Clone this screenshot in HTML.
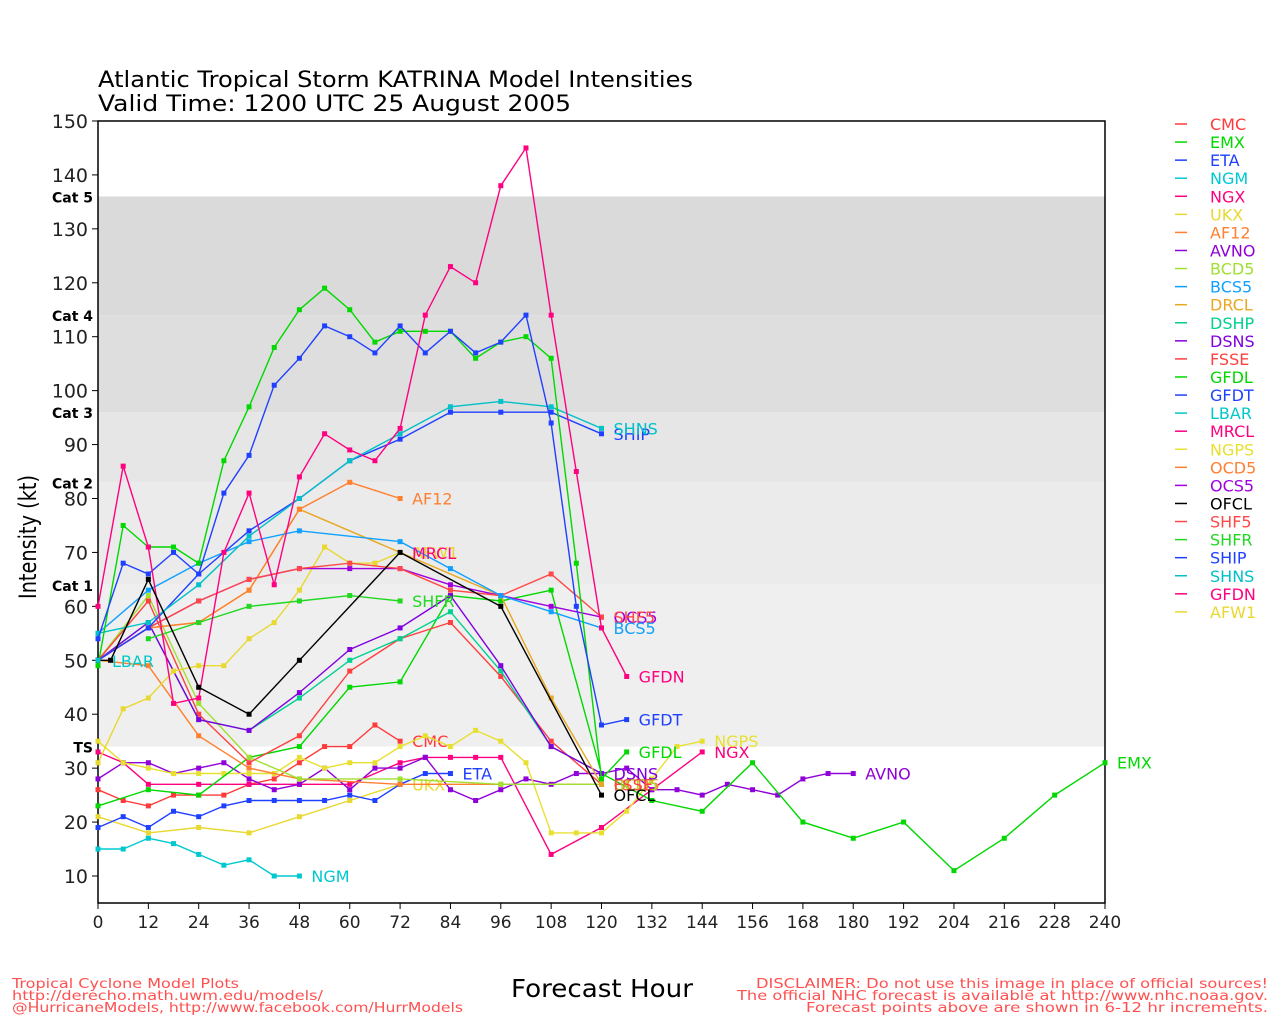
<!DOCTYPE html>
<html><head><meta charset="utf-8"><style>
html,body{margin:0;padding:0;background:#fff;width:1280px;height:1024px;overflow:hidden}
svg text{font-family:"DejaVu Sans","Liberation Sans",sans-serif}
</style></head><body>
<svg id="s" width="1280" height="1024" xmlns="http://www.w3.org/2000/svg"></svg>
<script>
const S=document.getElementById('s');let h='';
const X=t=>98+t*1007/240, Y=v=>876-(v-10)*5.393;
h+=`<rect x="98" y="121" width="1007" height="782" fill="#fff"/>`;
[[136,114,'#dadada'],[114,96,'#dedede'],[96,83,'#e6e6e6'],[83,64,'#ebebeb'],[64,34,'#efefef']].forEach(b=>{
 h+=`<rect x="98" y="${Y(b[0])}" width="1007" height="${Y(b[1])-Y(b[0])}" fill="${b[2]}"/>`;});
h+=`<rect x="98" y="121" width="1007" height="782" fill="none" stroke="#000" stroke-width="1.5"/>`;
for(let v=10;v<=150;v+=10){h+=`<line x1="92" x2="98" y1="${Y(v)}" y2="${Y(v)}" stroke="#000"/><text x="88" y="${Y(v)+7}" font-size="19" text-anchor="end" fill="#222">${v}</text>`;}
for(let t=0;t<=240;t+=12){h+=`<line x1="${X(t)}" x2="${X(t)}" y1="903" y2="909" stroke="#000"/><text x="${X(t)}" y="928" font-size="17" text-anchor="middle" fill="#222">${t}</text>`;}
[['Cat 5',136],['Cat 4',114],['Cat 3',96],['Cat 2',83],['Cat 1',64],['TS',34]].forEach(c=>{h+=`<text x="93" y="${Y(c[1])+6}" font-size="14" font-weight="bold" text-anchor="end">${c[0]}</text>`;});
h+=`<text x="98" y="87" font-size="22" textLength="595" lengthAdjust="spacingAndGlyphs">Atlantic Tropical Storm KATRINA Model Intensities</text><text x="98" y="111" font-size="22" textLength="473" lengthAdjust="spacingAndGlyphs">Valid Time: 1200 UTC 25 August 2005</text>`;
h+=`<text transform="translate(36,537) rotate(-90)" font-size="24" text-anchor="middle" textLength="124" lengthAdjust="spacingAndGlyphs">Intensity (kt)</text>`;
h+=`<text x="511" y="997" font-size="25" textLength="182" lengthAdjust="spacingAndGlyphs">Forecast Hour</text>`;
h+=`<g font-size="13.5" fill="#ff5050"><text x="12" y="988" textLength="227" lengthAdjust="spacingAndGlyphs">Tropical Cyclone Model Plots</text><text x="12" y="1000" textLength="311" lengthAdjust="spacingAndGlyphs">http://derecho.math.uwm.edu/models/</text><text x="12" y="1012" textLength="451" lengthAdjust="spacingAndGlyphs">@HurricaneModels, http://www.facebook.com/HurrModels</text>
<text x="756" y="988" textLength="512" lengthAdjust="spacingAndGlyphs">DISCLAIMER: Do not use this image in place of official sources!</text><text x="737" y="1000" textLength="531" lengthAdjust="spacingAndGlyphs">The official NHC forecast is available at http://www.nhc.noaa.gov.</text><text x="806" y="1012" textLength="462" lengthAdjust="spacingAndGlyphs">Forecast points above are shown in 6-12 hr increments.</text></g>`;
const C={CMC:'#ff3a3a',EMX:'#00d800',ETA:'#2040ff',NGM:'#00c8d0',NGX:'#ff0080',UKX:'#e8d830',AF12:'#ff8030',AVNO:'#9000d8',BCD5:'#a0e030',BCS5:'#10a0ff',DRCL:'#e8a820',DSHP:'#00d090',DSNS:'#8000e0',FSSE:'#ff4040',GFDL:'#00d800',GFDT:'#2040ff',LBAR:'#00c8c8',MRCL:'#ff0080',NGPS:'#e8e030',OCD5:'#ff8030',OCS5:'#a000e0',OFCL:'#000000',SHF5:'#ff4848',SHFR:'#20d820',SHIP:'#2040ff',SHNS:'#00c0c8',GFDN:'#ff0080',AFW1:'#e8d830'};
const step=(s,arr)=>arr.map((v,i)=>[s*i,v]);
const D={
NGM:step(6,[15,15,17,16,14,12,13,10,10]),
UKX:step(12,[21,18,19,18,21,24,27]),
ETA:step(6,[19,21,19,22,21,23,24,24,24,24,25,24,27,29,29]),
CMC:step(6,[26,24,23,25,25,25,27,28,31,34,34,38,35]),
NGX:[[0,33],[6,31],[12,27],[24,27],[36,27],[48,27],[60,27],[72,31],[78,32],[84,32],[90,32],[96,32],[108,14],[120,19],[132,26],[144,33]],
AVNO:step(6,[28,31,31,29,30,31,28,26,27,30,26,30,30,32,26,24,26,28,27,29,29,30,26,26,25,27,26,25,28,29,29]),
NGPS:step(6,[35,31,30,29,29,29,29,29,32,30,31,31,34,36,34,37,35,31,18,18,18,22,28,34,35]),
EMX:[[0,23],[12,26],[24,25],[36,32],[48,34],[60,45],[72,46],[84,62],[96,61],[108,63],[120,29],[132,24],[144,22],[156,31],[168,20],[180,17],[192,20],[204,11],[216,17],[228,25],[240,31]],
OCD5:[[0,50],[12,49],[24,36],[36,30],[48,28],[72,27],[96,27],[120,27]],
BCD5:[[0,50],[12,62],[24,42],[36,32],[48,28],[72,28],[96,27],[120,27]],
FSSE:[[0,50],[12,61],[24,40],[36,31],[48,36],[60,48],[72,54],[84,57],[96,47],[108,35],[120,27]],
DSHP:[[0,50],[12,57],[24,39],[36,37],[48,43],[60,50],[72,54],[84,59],[96,48],[108,34],[120,29]],
DSNS:[[0,50],[12,57],[24,39],[36,37],[48,44],[60,52],[72,56],[84,62],[96,49],[108,34],[120,29]],
DRCL:[[0,50],[12,56],[24,57],[36,63],[48,78],[96,62],[108,43],[120,27]],
AFW1:step(6,[31,41,43,48,49,49,54,57,63,71,68,68,70]),
AF12:[[0,50],[12,56],[24,57],[36,63],[48,78],[60,83],[72,80]],
SHFR:[[12,54],[24,57],[36,60],[48,61],[60,62],[72,61]],
OCS5:[[0,50],[12,56],[24,61],[36,65],[48,67],[60,67],[72,67],[84,64],[96,62],[108,60],[120,58]],
SHF5:[[0,50],[12,56],[24,61],[36,65],[48,67],[60,68],[72,67],[84,63],[96,62],[108,66],[120,58]],
BCS5:[[0,55],[12,63],[24,68],[36,72],[48,74],[72,72],[84,67],[96,62],[108,59],[120,56]],
SHIP:[[0,50],[12,56],[24,66],[36,74],[48,80],[60,87],[72,91],[84,96],[96,96],[108,96],[120,92]],
SHNS:[[0,55],[12,57],[24,64],[36,73],[48,80],[60,87],[72,92],[84,97],[96,98],[108,97],[120,93]],
GFDL:step(6,[49,75,71,71,68,87,97,108,115,119,115,109,111,111,111,106,109,110,106,68,28,33]),
GFDT:step(6,[54,68,66,70,66,81,88,101,106,112,110,107,112,107,111,107,109,114,94,60,38,39]),
GFDN:step(6,[60,86,71,42,43,70,81,64,84,92,89,87,93,114,123,120,138,145,114,85,56,47]),
OFCL:[[0,50],[3,50],[12,65],[24,45],[36,40],[48,50],[72,70],[96,60],[120,25]],
LBAR:[[0,50]]
};
const L={NGM:1,UKX:1,ETA:1,CMC:1,NGX:1,AVNO:1,NGPS:1,EMX:1,OCD5:1,BCD5:1,FSSE:1,DSNS:1,AF12:1,SHFR:1,OCS5:1,SHF5:1,BCS5:1,SHIP:1,SHNS:1,GFDL:1,GFDT:1,GFDN:1,OFCL:1,AFW1:1};
for(const k in D){const p=D[k],c=C[k];
 if(p.length>1)h+=`<polyline fill="none" stroke="${c}" stroke-width="1.4" points="${p.map(q=>X(q[0]).toFixed(1)+','+Y(q[1]).toFixed(1)).join(' ')}"/>`;
 p.forEach(q=>{h+=`<rect x="${X(q[0])-2.5}" y="${Y(q[1])-2.5}" width="5" height="5" fill="${c}"/>`;});
 if(L[k]){const q=p[p.length-1];h+=`<text x="${X(q[0])+12}" y="${Y(q[1])+6}" font-size="16" fill="${c}">${k}</text>`;}
}
h+=`<text x="112" y="667" font-size="16" fill="${C.LBAR}">LBAR</text><text x="412" y="559" font-size="16" fill="${C.MRCL}">MRCL</text>`;
Object.keys(C).forEach((k,i)=>{const y=124+i*18.07;h+=`<line x1="1175" x2="1187" y1="${y}" y2="${y}" stroke="${C[k]}" stroke-width="1.5"/><text x="1210" y="${y+6}" font-size="16" fill="${C[k]}">${k}</text>`;});
S.innerHTML=h;
</script>
</body></html>
